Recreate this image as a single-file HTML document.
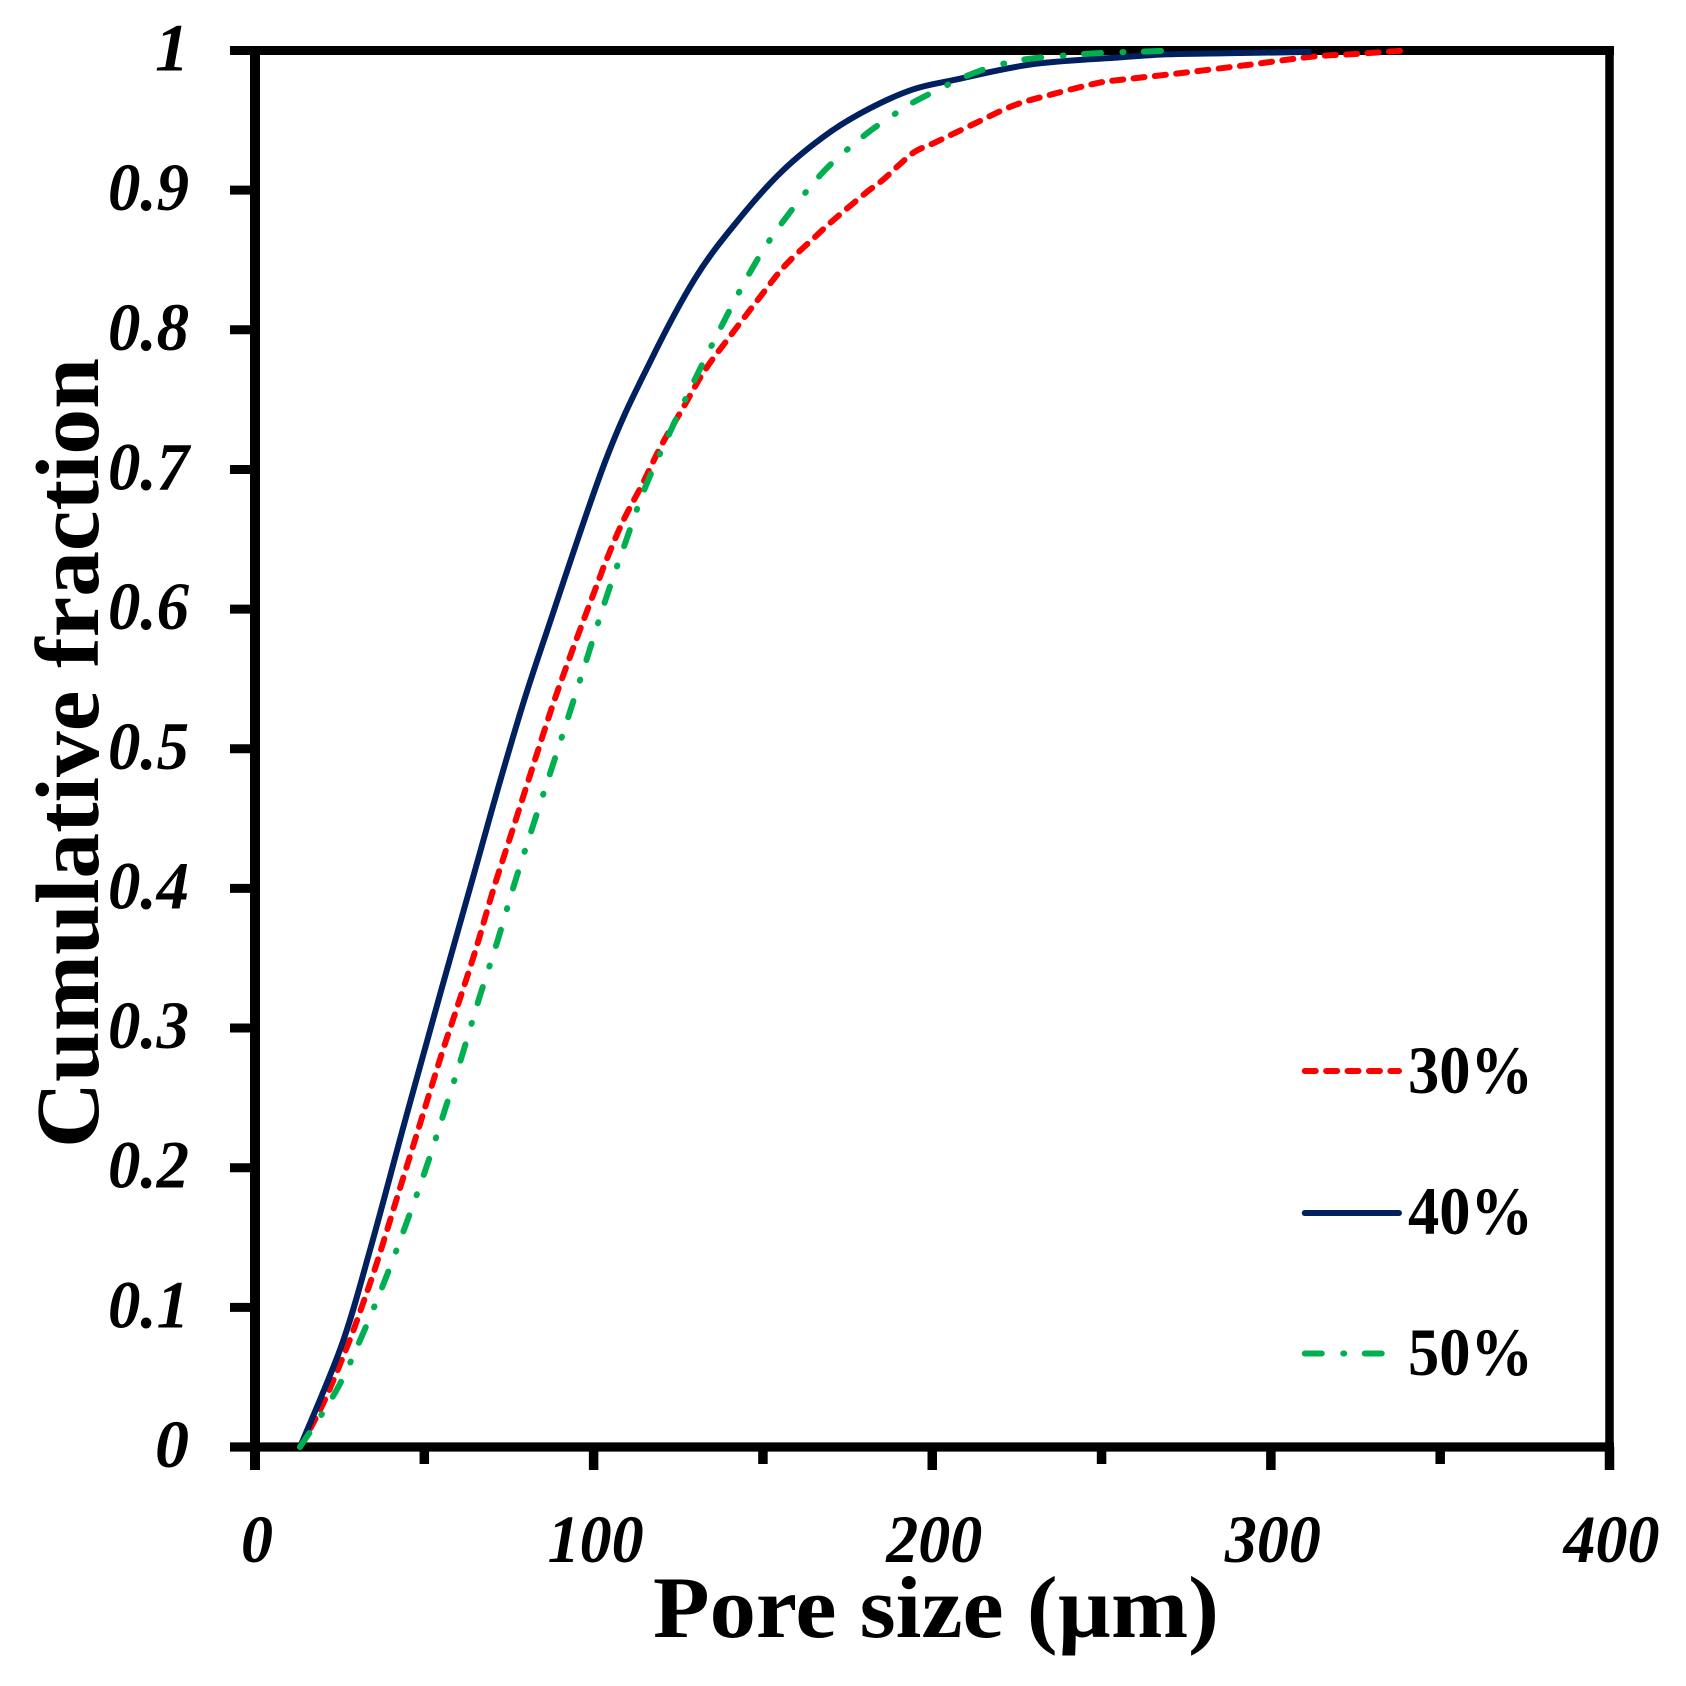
<!DOCTYPE html>
<html>
<head>
<meta charset="utf-8">
<title>Cumulative fraction vs pore size</title>
<style>
html,body{margin:0;padding:0;background:#fff;}
svg{display:block;font-family:"Liberation Serif",serif;}
</style>
</head>
<body>
<svg id="chart" width="1686" height="1686" viewBox="0 0 1686 1686" xmlns="http://www.w3.org/2000/svg">
<rect x="0" y="0" width="1686" height="1686" fill="#fff"/>
<text transform="translate(98,1148) rotate(-90)" font-size="90" font-weight="bold" textLength="790" lengthAdjust="spacingAndGlyphs">Cumulative fraction</text>
<text x="653" y="1637" font-size="88" font-weight="bold" textLength="566" lengthAdjust="spacingAndGlyphs">Pore size (µm)</text>
</svg>
<script>
const xMajorLabels = ["0", "100", "200", "300", "400"];
const xMajorTicks = [0, 100, 200, 300, 400];
const xMinorTicks = [50, 150, 250, 350];
const yTicks = [0, 0.1, 0.2, 0.3, 0.4, 0.5, 0.6, 0.7, 0.8, 0.9, 1];
const yLabels = ["0", "0.1", "0.2", "0.3", "0.4", "0.5", "0.6", "0.7", "0.8", "0.9", "1"];

const poreSize30 = [13.3, 20.2, 27.6, 32, 36.1, 41.8, 47.5, 55.1, 59.1, 65, 70.4, 76.3, 82.2, 88.1, 94.3, 101.7, 103.7, 108.6, 114.5, 119.8, 126.6, 132.9, 140.8, 148.6, 156.5, 165.7, 170.6, 180.2, 185.4, 190.2, 194.9, 200.8, 212.1, 224, 235.8, 248.6, 254.9, 274, 293.3, 311.9, 324.9, 339.5];
const fraction30 = [0, 0.0315, 0.0743, 0.1036, 0.1327, 0.1774, 0.2218, 0.2812, 0.3105, 0.3547, 0.3993, 0.4437, 0.4884, 0.5325, 0.5743, 0.622, 0.6347, 0.6626, 0.69, 0.7163, 0.7449, 0.7712, 0.797, 0.8218, 0.8459, 0.8672, 0.8781, 0.8977, 0.9073, 0.918, 0.9276, 0.9341, 0.9472, 0.9606, 0.9689, 0.9766, 0.9788, 0.984, 0.9897, 0.9955, 0.9975, 1];

const poreSize40 = [13.3, 25.6, 33.96, 43.3, 48.2, 55, 65, 71.9, 79.2, 85.35, 103.4, 116.7, 129.95, 142.3, 155.5, 169.3, 181.6, 194.4, 207.2, 229.9, 255.5, 269.6, 286.5, 312];
const fraction40 = [0, 0.073, 0.141, 0.2246, 0.2678, 0.3272, 0.4132, 0.4728, 0.5325, 0.5779, 0.7056, 0.7771, 0.8368, 0.8774, 0.9132, 0.9407, 0.9586, 0.9722, 0.9793, 0.9903, 0.9951, 0.9973, 0.998, 0.999];

const poreSize50 = [13.3, 24.1, 31.7, 38.4, 44.6, 50.5, 55.9, 61.2, 66.2, 71.6, 76.6, 82, 87.4, 92.8, 98.2, 103.7, 109.3, 115.2, 122.4, 129.9, 137.8, 146, 154.1, 167.4, 179.5, 186.6, 193.9, 201.6, 209.7, 217.9, 226.4, 235.5, 244.1, 252.8, 261.7, 270.5];
const fraction50 = [0, 0.0408, 0.0802, 0.1196, 0.1595, 0.1996, 0.2401, 0.2807, 0.3213, 0.3623, 0.4032, 0.4442, 0.4843, 0.5249, 0.566, 0.608, 0.6471, 0.687, 0.7259, 0.7645, 0.8028, 0.8404, 0.8715, 0.912, 0.9383, 0.9507, 0.9622, 0.9718, 0.9813, 0.9885, 0.9933, 0.9957, 0.9974, 0.9986, 0.9992, 1];

const legendLabels = ["30%", "40%", "50%"];

const NS = "http://www.w3.org/2000/svg";
const svg = document.getElementById("chart");
const plotLeft = 255, plotRight = 1609.5, plotTop = 50.5, plotBottom = 1447;
function sx(v) { return plotLeft + (v / 400) * (plotRight - plotLeft); }
function sy(v) { return plotBottom - v * (plotBottom - plotTop); }

function make(tag, attrs) {
  const el = document.createElementNS(NS, tag);
  for (const k in attrs) el.setAttribute(k, attrs[k]);
  return el;
}
function axisLine(x1, y1, x2, y2, w) {
  return make("line", { x1: x1, y1: y1, x2: x2, y2: y2, stroke: "#000", "stroke-width": w });
}

// plot frame
const axisLeft = axisLine(plotLeft, 46, plotLeft, 1470, 10);


svg.appendChild(axisLeft);

const axisBottom = axisLine(230, plotBottom, 1614, plotBottom, 9.3);


svg.appendChild(axisBottom);

const axisTop = axisLine(230, plotTop, 1614, plotTop, 9);


svg.appendChild(axisTop);

const axisRight = axisLine(plotRight, 46, plotRight, 1470, 8.5);


svg.appendChild(axisRight);

// y ticks and labels
yTicks.forEach(function (v, i) {
  const t = axisLine(230, sy(v), plotLeft, sy(v), 9);
  
  
  svg.appendChild(t);
  const label = make("text", { x: 189, y: sy(v) + 20, "text-anchor": "end", "font-size": 68, "font-style": "italic", "font-weight": "bold" });
  
  
  if (yLabels[i].length > 1) {
    label.setAttribute("textLength", 81);
    label.setAttribute("lengthAdjust", "spacingAndGlyphs");
  }
  label.textContent = yLabels[i];
  svg.appendChild(label);
});

// x ticks and labels
xMajorTicks.forEach(function (v, i) {
  const t = axisLine(sx(v), plotBottom, sx(v), 1470, 9.5);
  
  
  svg.appendChild(t);
  const label = make("text", { x: sx(v) + 2, y: 1562, "text-anchor": "middle", "font-size": 68, "font-style": "italic", "font-weight": "bold", textLength: 32 * xMajorLabels[i].length, lengthAdjust: "spacingAndGlyphs" });
  
  
  label.textContent = xMajorLabels[i];
  svg.appendChild(label);
});
xMinorTicks.forEach(function (v) {
  const t = axisLine(sx(v), plotBottom, sx(v), 1464, 9.5);
  
  
  svg.appendChild(t);
});

// series: curve through the data points, evaluated via the axis functions
function pathFrom(xs, ys) {
  const px = xs.map(sx);
  const py = ys.map(sy);
  let d = "M" + px[0].toFixed(2) + " " + py[0].toFixed(2);
  for (let i = 0; i < px.length - 1; i++) {
    const a = Math.max(i - 1, 0);
    const b = Math.min(i + 2, px.length - 1);
    const c1x = px[i] + (px[i + 1] - px[a]) / 6;
    const c1y = py[i] + (py[i + 1] - py[a]) / 6;
    const c2x = px[i + 1] - (px[b] - px[i]) / 6;
    const c2y = py[i + 1] - (py[b] - py[i]) / 6;
    d += " C" + c1x.toFixed(2) + " " + c1y.toFixed(2) + " " + c2x.toFixed(2) + " " + c2y.toFixed(2) + " " + px[i + 1].toFixed(2) + " " + py[i + 1].toFixed(2);
  }
  return d;
}
const dash30 = "11 10.4";
const dash50 = "17 21.5 1 20.5";

const line30 = make("path", { d: pathFrom(poreSize30, fraction30), fill: "none", stroke: "#FF0000", "stroke-width": 6, "stroke-linecap": "round", "stroke-linejoin": "round", "stroke-dasharray": dash30 });


svg.appendChild(line30);

const line40 = make("path", { d: pathFrom(poreSize40, fraction40), fill: "none", stroke: "#002060", "stroke-width": 6, "stroke-linejoin": "round" });


svg.appendChild(line40);

const line50 = make("path", { d: pathFrom(poreSize50, fraction50), fill: "none", stroke: "#00B050", "stroke-width": 6, "stroke-linecap": "round", "stroke-linejoin": "round", "stroke-dasharray": dash50 });


svg.appendChild(line50);

// legend
const swatch30 = make("line", { x1: 1304.75, y1: 1071, x2: 1399, y2: 1071, stroke: "#FF0000", "stroke-width": 6, "stroke-linecap": "round", "stroke-dasharray": dash30 });


svg.appendChild(swatch30);

const swatch40 = make("line", { x1: 1304.75, y1: 1213, x2: 1399, y2: 1213, stroke: "#002060", "stroke-width": 6, "stroke-linecap": "round" });


svg.appendChild(swatch40);

const swatch50 = make("line", { x1: 1304.75, y1: 1353.5, x2: 1382, y2: 1353.5, stroke: "#00B050", "stroke-width": 6, "stroke-linecap": "round", "stroke-dasharray": dash50 });


svg.appendChild(swatch50);

const legendY = [1093, 1234, 1375];
legendLabels.forEach(function (s, i) {
  const t = make("text", { x: 1408, y: legendY[i], "font-size": 68, "font-weight": "bold", textLength: 125, lengthAdjust: "spacingAndGlyphs" });
  
  
  t.textContent = s;
  svg.appendChild(t);
});
</script>
</body>
</html>
